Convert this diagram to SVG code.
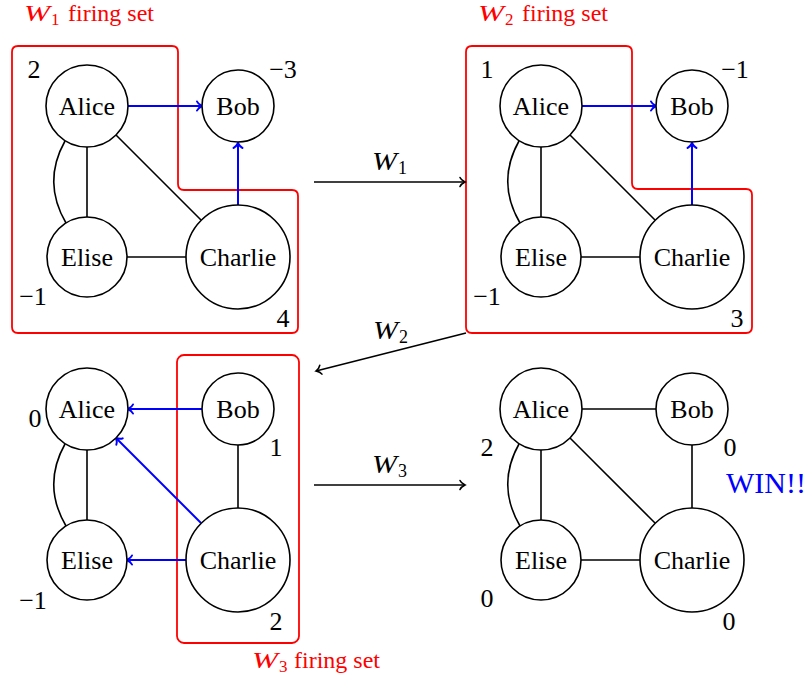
<svg xmlns="http://www.w3.org/2000/svg" width="809" height="684" viewBox="0 0 809 684">
  <style>
    text { font-family: "Liberation Serif", "Times New Roman", serif; }
    .node circle { fill: #fff; stroke: #000; stroke-width: 1.6; }
    .node text { font-size: 26px; text-anchor: middle; fill: #000; }
    .edge { fill: none; stroke: #000; stroke-width: 1.6; }
    .chip { fill: none; stroke: #0000ff; stroke-width: 2; }
    .fire { fill: none; stroke: #ff0000; stroke-width: 1.8; }
    .num { font-size: 26px; text-anchor: middle; fill: #000; }
    .cap { font-size: 24px; fill: #ff0000; }
    .sub { font-size: 17px; }
    .math { font-size: 26px; fill: #000; }
    .msub { font-size: 18px; fill: #000; }
    .it { font-style: italic; }
    .win { font-size: 30px; fill: #0000ff; }
  </style>
  <defs>
    <marker id="to-black" viewBox="-7 -6 8 12" refX="0" refY="0" markerWidth="8" markerHeight="12" markerUnits="userSpaceOnUse" orient="auto" overflow="visible">
      <path d="M-5,-4.5 C-4,-2 -1,-0.5 0,0 C-1,0.5 -4,2 -5,4.5" fill="none" stroke="#000" stroke-width="1.6" stroke-linecap="round"/>
    </marker>
    <marker id="to-blue" viewBox="-7 -6 8 12" refX="0" refY="0" markerWidth="8" markerHeight="12" markerUnits="userSpaceOnUse" orient="auto" overflow="visible">
      <path d="M-5,-4.5 C-4,-2 -1,-0.5 0,0 C-1,0.5 -4,2 -5,4.5" fill="none" stroke="#0000ff" stroke-width="2" stroke-linecap="round"/>
    </marker>
  </defs>

  <!-- Step 1: W1 fires -->
  <g id="step-1">
    <path class="fire" d="M18,46 H172 Q178,46 178,52 V184 Q178,190 184,190 H292 Q298,190 298,196 V327 Q298,333 292,333 H18 Q12,333 12,327 V52 Q12,46 18,46 Z"/>
    <g id="s1-caption">
      <text class="cap it" x="24" y="21" textLength="26" lengthAdjust="spacingAndGlyphs">W</text>
      <text class="cap sub" x="51" y="25">1</text>
      <text class="cap" x="68" y="21">firing set</text>
    </g>
    <g class="connectors">
      <path class="edge" d="M87,147 V217"/>
      <path class="edge" d="M65,141 Q42,182 66,223"/>
      <path class="edge" d="M116,135 L201,220"/>
      <path class="edge" d="M127,257 H186"/>
      <path class="chip" d="M128,106 H202" marker-end="url(#to-blue)"/>
      <path class="chip" d="M238,205 V143" marker-end="url(#to-blue)"/>
    </g>
    <g id="s1-alice" class="node"><circle cx="87" cy="106" r="41"/><text x="87" y="115">Alice</text></g>
    <g id="s1-bob" class="node"><circle cx="238" cy="106" r="36"/><text x="238" y="115">Bob</text></g>
    <g id="s1-elise" class="node"><circle cx="87" cy="257" r="40"/><text x="87" y="266">Elise</text></g>
    <g id="s1-charlie" class="node"><circle cx="238" cy="257" r="52"/><text x="238" y="266">Charlie</text></g>
    <text class="num" x="34" y="78">2</text>
    <text class="num" x="283" y="78">−3</text>
    <text class="num" x="33" y="305">−1</text>
    <text class="num" x="283" y="327">4</text>
  </g>

  <!-- Step 2: W2 fires -->
  <g id="step-2" transform="translate(454,0)">
    <path class="fire" d="M18,46 H172 Q178,46 178,52 V183 Q178,189 184,189 H292 Q298,189 298,195 V327 Q298,333 292,333 H18 Q12,333 12,327 V52 Q12,46 18,46 Z"/>
    <g id="s2-caption">
      <text class="cap it" x="24" y="21" textLength="26" lengthAdjust="spacingAndGlyphs">W</text>
      <text class="cap sub" x="51" y="25">2</text>
      <text class="cap" x="68" y="21">firing set</text>
    </g>
    <g class="connectors">
      <path class="edge" d="M87,147 V217"/>
      <path class="edge" d="M65,141 Q42,182 66,223"/>
      <path class="edge" d="M116,135 L201,220"/>
      <path class="edge" d="M127,257 H186"/>
      <path class="chip" d="M128,106 H202" marker-end="url(#to-blue)"/>
      <path class="chip" d="M238,205 V143" marker-end="url(#to-blue)"/>
    </g>
    <g id="s2-alice" class="node"><circle cx="87" cy="106" r="41"/><text x="87" y="115">Alice</text></g>
    <g id="s2-bob" class="node"><circle cx="238" cy="106" r="36"/><text x="238" y="115">Bob</text></g>
    <g id="s2-elise" class="node"><circle cx="87" cy="257" r="40"/><text x="87" y="266">Elise</text></g>
    <g id="s2-charlie" class="node"><circle cx="238" cy="257" r="52"/><text x="238" y="266">Charlie</text></g>
    <text class="num" x="33" y="78">1</text>
    <text class="num" x="281" y="78">−1</text>
    <text class="num" x="33" y="305">−1</text>
    <text class="num" x="283" y="327">3</text>
  </g>

  <!-- Step 3: W3 fires -->
  <g id="step-3" transform="translate(0,303)">
    <rect class="fire" x="177" y="52" width="122" height="288" rx="7"/>
    <g id="s3-caption">
      <text class="cap it" x="252" y="365" textLength="26" lengthAdjust="spacingAndGlyphs">W</text>
      <text class="cap sub" x="279" y="369">3</text>
      <text class="cap" x="294" y="365">firing set</text>
    </g>
    <g class="connectors">
      <path class="edge" d="M87,147 V217"/>
      <path class="edge" d="M65,141 Q42,182 66,223"/>
      <path class="edge" d="M238,142 V205"/>
      <path class="chip" d="M202,106 H128" marker-end="url(#to-blue)"/>
      <path class="chip" d="M201,220 L116,135" marker-end="url(#to-blue)"/>
      <path class="chip" d="M186,257 H127" marker-end="url(#to-blue)"/>
    </g>
    <g id="s3-alice" class="node"><circle cx="87" cy="106" r="41"/><text x="87" y="115">Alice</text></g>
    <g id="s3-bob" class="node"><circle cx="238" cy="106" r="36"/><text x="238" y="115">Bob</text></g>
    <g id="s3-elise" class="node"><circle cx="87" cy="257" r="40"/><text x="87" y="266">Elise</text></g>
    <g id="s3-charlie" class="node"><circle cx="238" cy="257" r="52"/><text x="238" y="266">Charlie</text></g>
    <text class="num" x="35" y="124">0</text>
    <text class="num" x="276" y="153">1</text>
    <text class="num" x="33" y="306">−1</text>
    <text class="num" x="276" y="327">2</text>
  </g>

  <!-- Final state -->
  <g id="step-4" transform="translate(454,303)">
    <g class="connectors">
      <path class="edge" d="M128,106 H202"/>
      <path class="edge" d="M87,147 V217"/>
      <path class="edge" d="M65,141 Q42,182 66,223"/>
      <path class="edge" d="M116,135 L201,220"/>
      <path class="edge" d="M238,142 V205"/>
      <path class="edge" d="M127,257 H186"/>
    </g>
    <g id="s4-alice" class="node"><circle cx="87" cy="106" r="41"/><text x="87" y="115">Alice</text></g>
    <g id="s4-bob" class="node"><circle cx="238" cy="106" r="36"/><text x="238" y="115">Bob</text></g>
    <g id="s4-elise" class="node"><circle cx="87" cy="257" r="40"/><text x="87" y="266">Elise</text></g>
    <g id="s4-charlie" class="node"><circle cx="238" cy="257" r="52"/><text x="238" y="266">Charlie</text></g>
    <text class="num" x="33" y="153">2</text>
    <text class="num" x="276" y="153">0</text>
    <text class="num" x="33" y="304">0</text>
    <text class="num" x="275" y="327">0</text>
    <text class="win" x="272" y="190">WIN!!</text>
  </g>

  <!-- Transitions between steps -->
  <g id="transitions">
    <path class="edge" d="M314,182 H465" marker-end="url(#to-black)"/>
    <path class="edge" d="M466,333 L316,371" marker-end="url(#to-black)"/>
    <path class="edge" d="M314,485 H465" marker-end="url(#to-black)"/>
    <text class="math it" x="372" y="170" textLength="25" lengthAdjust="spacingAndGlyphs">W</text>
    <text class="msub" x="398" y="174">1</text>
    <text class="math it" x="373" y="339" textLength="25" lengthAdjust="spacingAndGlyphs">W</text>
    <text class="msub" x="399" y="343">2</text>
    <text class="math it" x="372" y="473" textLength="25" lengthAdjust="spacingAndGlyphs">W</text>
    <text class="msub" x="398" y="477">3</text>
  </g>
</svg>
